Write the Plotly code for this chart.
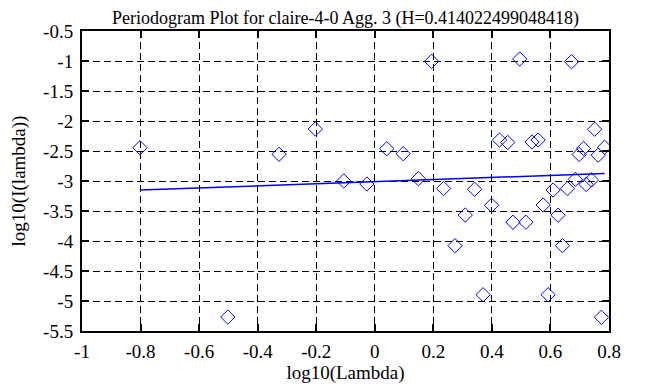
import plotly.graph_objects as go

# Periodogram points (log10 lambda, log10 I(lambda))
log_lambda = [-0.802, -0.502, -0.327, -0.203, -0.106, -0.027, 0.041, 0.097, 0.149, 0.194,
              0.235, 0.274, 0.309, 0.341, 0.370, 0.399, 0.426, 0.454, 0.472, 0.495,
              0.516, 0.537, 0.558, 0.575, 0.592, 0.609, 0.626, 0.641, 0.658, 0.672,
              0.685, 0.698, 0.713, 0.722, 0.740, 0.751, 0.763, 0.774, 0.785]
log_periodogram = [-2.445, -5.267, -2.555, -2.133, -3.000, -3.050, -2.462, -2.545, -2.962, -1.005,
                   -3.125, -4.078, -3.567, -3.138, -4.895, -3.405, -2.317, -2.358, -3.687, -0.967,
                   -3.687, -2.350, -2.317, -3.400, -4.895, -3.150, -3.570, -4.078, -3.128, -1.012,
                   -2.972, -2.558, -2.458, -3.058, -2.983, -2.137, -2.570, -5.272, -2.438]

# Least-squares fit line endpoints
fit_x = [-0.802, 0.785]
fit_y = [-3.150, -2.875]

title_text = "Periodogram Plot for claire-4-0 Agg. 3 (H=0.414022499048418)"
x_ticks = [-1, -0.8, -0.6, -0.4, -0.2, 0, 0.2, 0.4, 0.6, 0.8]
x_labels = ["-1", "-0.8", "-0.6", "-0.4", "-0.2", "0", "0.2", "0.4", "0.6", "0.8"]
y_ticks = [-5.5, -5, -4.5, -4, -3.5, -3, -2.5, -2, -1.5, -1, -0.5]
y_labels = ["-5.5", "-5", "-4.5", "-4", "-3.5", "-3", "-2.5", "-2", "-1.5", "-1", "-0.5"]

FONT = "Liberation Serif"
FS = 19

fig = go.Figure()
fig.add_trace(go.Scatter(
    x=log_lambda, y=log_periodogram, mode="markers",
    marker=dict(symbol="diamond-open", size=11, color="#0000ff", line=dict(width=1, color="#0000ff")),
    showlegend=False, hoverinfo="x+y"))
fig.add_trace(go.Scatter(
    x=fit_x, y=fit_y, mode="lines",
    line=dict(color="#0000ff", width=1.5), showlegend=False))

axis_common = dict(
    showline=True, linecolor="black", linewidth=2, mirror="ticks",
    ticks="inside", ticklen=7, tickwidth=2, tickcolor="black",
    showgrid=True, gridcolor="black", gridwidth=1, griddash="7px,4px",
    zeroline=False, automargin=False, tickfont=dict(family=FONT, size=FS, color="black"),
)

# The page body adds an 8px offset, so the figure is sized to fit the 653x387 window.
fig.update_layout(
    width=645, height=379,
    margin=dict(l=74, r=44, t=23, b=56),
    paper_bgcolor="white", plot_bgcolor="white",
    font=dict(family=FONT, size=FS, color="black"),
    title=dict(text=title_text, x=0.5, xref="paper", xanchor="center", y=1 - 3 / 379, yanchor="top",
               yref="container", pad=dict(t=0, b=0), automargin=False,
               font=dict(family=FONT, size=18, color="black")),
    xaxis=dict(range=[-1, 0.8], tickvals=x_ticks, ticktext=x_labels, ticklabelstandoff=2,
               title=dict(text="log10(Lambda)", standoff=2, font=dict(family=FONT, size=FS)),
               **axis_common),
    yaxis=dict(range=[-5.5, -0.5], tickvals=y_ticks, ticktext=y_labels, ticklabelstandoff=3,
               title=dict(text="log10(I(lambda))", standoff=14, font=dict(family=FONT, size=FS)),
               **axis_common),
)

fig.write_html("out.html")
